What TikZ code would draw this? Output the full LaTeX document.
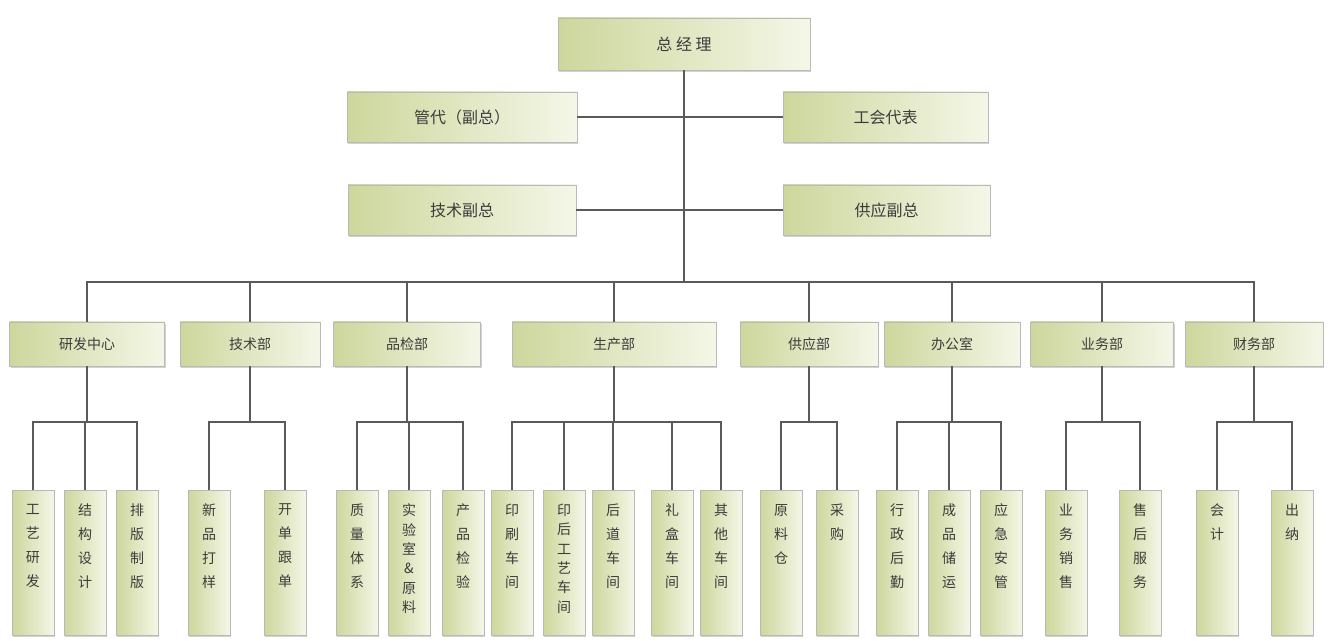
\documentclass[tikz,border=0pt]{standalone}
\usepackage{fontspec}
\setmainfont{Noto Sans CJK SC}
\usetikzlibrary{shadows,calc}
\definecolor{boxL}{HTML}{CDD79C}
\definecolor{boxR}{HTML}{F4F7E8}
\definecolor{lineC}{HTML}{5A5A5A}
\definecolor{txt}{HTML}{3C3C3C}
\newcommand{\vstack}[2][18pt]{\parbox[c][100pt][t]{14pt}{\centering\fontsize{10.5}{#1}\selectfont\vspace*{6pt}#2\par}}
\begin{document}
\begin{tikzpicture}[x=0.75pt,y=-0.75pt,
  box/.style={draw=gray!55, line width=0.4pt, left color=boxL, right color=boxR,
    drop shadow={opacity=0.35,shadow xshift=0.8pt,shadow yshift=-1.5pt},
    inner sep=0pt, text=txt},
  topbox/.style={box, font=\fontsize{12}{14}\selectfont, minimum height=37.5pt},
  dept/.style={box, font=\fontsize{10.5}{12}\selectfont, minimum height=33pt},
  leaf/.style={box, anchor=north, minimum width=31.5pt, minimum height=108.75pt},
  conn/.style={draw=lineC, line width=0.8pt}]
\useasboundingbox[fill=white] (0,0) rectangle (1335,641);

% top level
\node[topbox, minimum width=189pt, minimum height=39pt] (zjl) at (684,44) {总 经 理};
\node[topbox, minimum width=172.5pt] (gd) at (462,117) {管代（副总）};
\node[topbox, minimum width=153.75pt] (gh) at (885.5,117) {工会代表};
\node[topbox, minimum width=171pt] (js) at (462,210) {技术副总};
\node[topbox, minimum width=155.25pt] (gy) at (886.5,210) {供应副总};

% departments
\node[dept, minimum width=116.25pt] (d1) at (87,344) {研发中心};
\node[dept, minimum width=105pt] (d2) at (250,344) {技术部};
\node[dept, minimum width=110.25pt] (d3) at (407,344) {品检部};
\node[dept, minimum width=153pt] (d4) at (614,344) {生产部};
\node[dept, minimum width=103.5pt] (d5) at (809,344) {供应部};
\node[dept, minimum width=102pt] (d6) at (952,344) {办公室};
\node[dept, minimum width=107.25pt] (d7) at (1102,344) {业务部};
\node[dept, minimum width=103.5pt] (d8) at (1254,344) {财务部};

% leaves
\node[leaf] (a1) at (33,490) {\vstack{工\\艺\\研\\发}};
\node[leaf] (a2) at (85,490) {\vstack{结\\构\\设\\计}};
\node[leaf] (a3) at (137,490) {\vstack{排\\版\\制\\版}};
\node[leaf] (b1) at (209,490) {\vstack{新\\品\\打\\样}};
\node[leaf] (b2) at (285,490) {\vstack{开\\单\\跟\\单}};
\node[leaf] (c1) at (357,490) {\vstack{质\\量\\体\\系}};
\node[leaf] (c2) at (409,490) {\vstack[14.5pt]{实\\验\\室\\\&\\原\\料}};
\node[leaf] (c3) at (463,490) {\vstack{产\\品\\检\\验}};
\node[leaf] (e1) at (512,490) {\vstack{印\\刷\\车\\间}};
\node[leaf] (e2) at (564,490) {\vstack[14.5pt]{印\\后\\工\\艺\\车\\间}};
\node[leaf] (e3) at (613,490) {\vstack{后\\道\\车\\间}};
\node[leaf] (e4) at (672,490) {\vstack{礼\\盒\\车\\间}};
\node[leaf] (e5) at (721,490) {\vstack{其\\他\\车\\间}};
\node[leaf] (f1) at (781,490) {\vstack{原\\料\\仓}};
\node[leaf] (f2) at (837,490) {\vstack{采\\购}};
\node[leaf] (g1) at (897,490) {\vstack{行\\政\\后\\勤}};
\node[leaf] (g2) at (949,490) {\vstack{成\\品\\储\\运}};
\node[leaf] (g3) at (1001,490) {\vstack{应\\急\\安\\管}};
\node[leaf] (h1) at (1066,490) {\vstack{业\\务\\销\\售}};
\node[leaf] (h2) at (1140,490) {\vstack{售\\后\\服\\务}};
\node[leaf] (k1) at (1217,490) {\vstack{会\\计}};
\node[leaf] (k2) at (1292,490) {\vstack{出\\纳}};

% connectors
\coordinate (bus) at (0,282);
\coordinate (gb) at (0,422);
\draw[conn] (zjl.south) -- (zjl.south |- bus);
\draw[conn] (gd.east) -- (gh.west);
\draw[conn] (js.east) -- (gy.west);
\draw[conn] (d1.north) -- (d1.north |- bus) -- (d8.north |- bus) -- (d8.north);
\foreach \d in {d2,d3,d4,d5,d6,d7} \draw[conn] (\d.north) -- (\d.north |- bus);
% group buses
\foreach \d in {d1,d2,d3,d4,d5,d6,d7,d8} \draw[conn] (\d.south) -- (\d.south |- gb);
\draw[conn] (a1.north) -- (a1.north |- gb) -- (a3.north |- gb) -- (a3.north);
\draw[conn] (a2.north) -- (a2.north |- gb);
\draw[conn] (b1.north) -- (b1.north |- gb) -- (b2.north |- gb) -- (b2.north);
\draw[conn] (c1.north) -- (c1.north |- gb) -- (c3.north |- gb) -- (c3.north);
\draw[conn] (c2.north) -- (c2.north |- gb);
\draw[conn] (e1.north) -- (e1.north |- gb) -- (e5.north |- gb) -- (e5.north);
\foreach \d in {e2,e3,e4} \draw[conn] (\d.north) -- (\d.north |- gb);
\draw[conn] (f1.north) -- (f1.north |- gb) -- (f2.north |- gb) -- (f2.north);
\draw[conn] (g1.north) -- (g1.north |- gb) -- (g3.north |- gb) -- (g3.north);
\draw[conn] (g2.north) -- (g2.north |- gb);
\draw[conn] (h1.north) -- (h1.north |- gb) -- (h2.north |- gb) -- (h2.north);
\draw[conn] (k1.north) -- (k1.north |- gb) -- (k2.north |- gb) -- (k2.north);
\end{tikzpicture}
\end{document}
